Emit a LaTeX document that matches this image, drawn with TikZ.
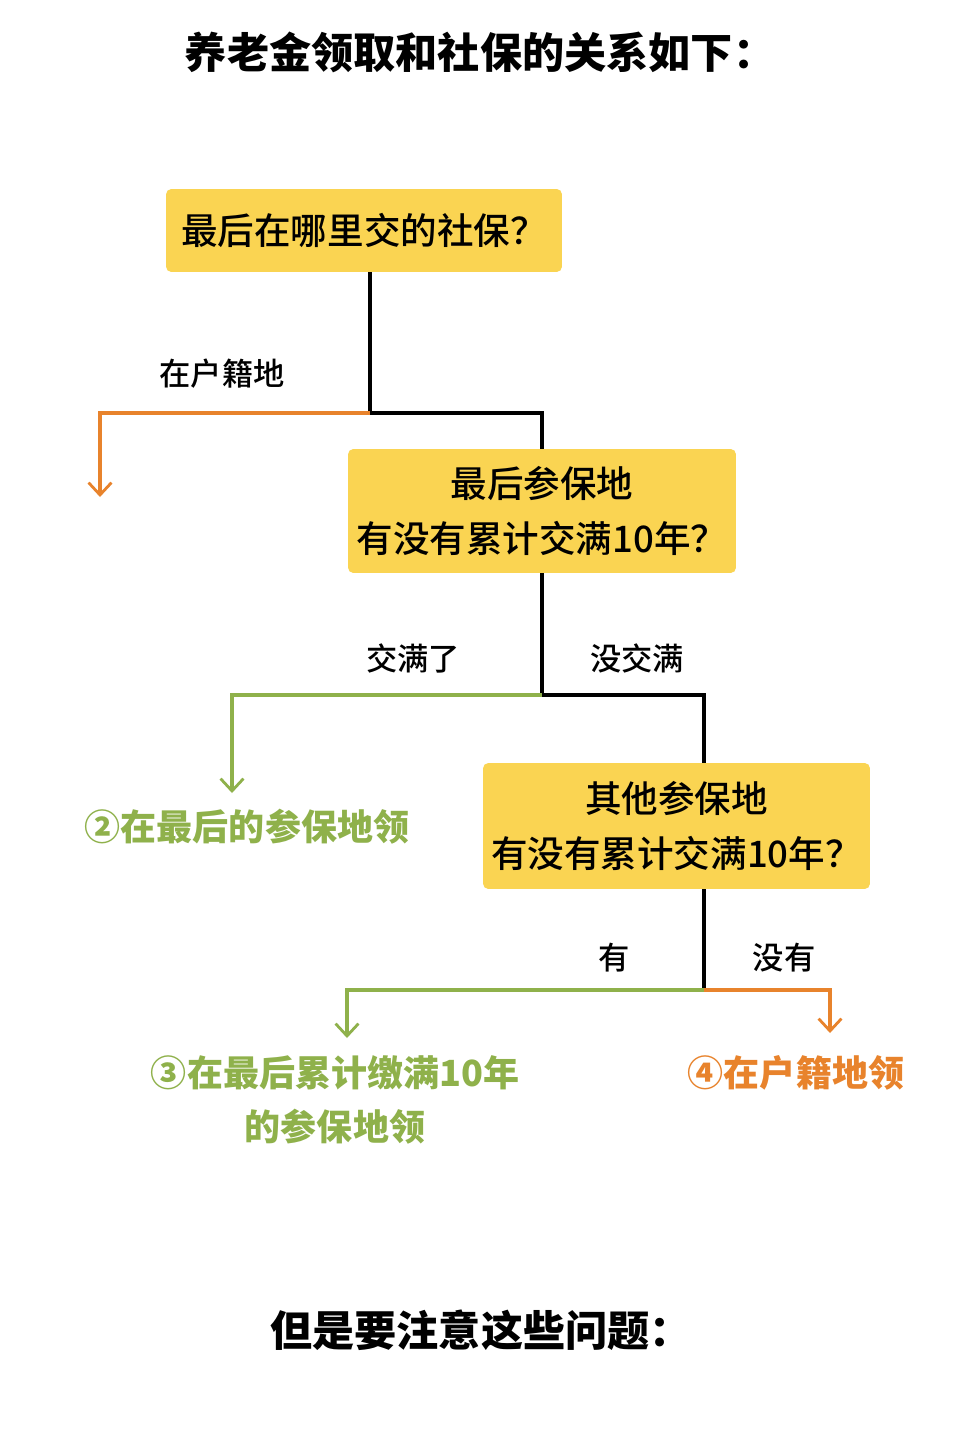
\documentclass[tikz,border=0pt]{standalone}
\usepackage{fontspec}
\newfontfamily\cjk{Noto Sans CJK SC}
\newfontfamily\cjkmed{Noto Sans CJK SC}[UprightFont={* Medium}]
\usetikzlibrary{arrows.meta,positioning}
\definecolor{boxyellow}{HTML}{FAD452}
\definecolor{leafgreen}{HTML}{8FB14B}
\definecolor{leaforange}{HTML}{E8832C}
\tikzset{
	qbox/.style={fill=boxyellow,rounded corners=3pt,align=center,inner sep=0pt,
		font=\cjkmed\fontsize{20.8}{31}\selectfont},
	lbl/.style={font=\cjkmed\fontsize{17.8}{20}\selectfont},
	head/.style={font=\cjk\bfseries\fontsize{24}{28}\selectfont},
	leaf/.style={align=center,font=\cjk\bfseries\fontsize{20.5}{31}\selectfont},
	link/.style={line width=2.3pt},
	-tip/.style={-{Straight Barb[length=7pt,width=13pt,line width=1.6pt]}}
}
\begin{document}
\begin{tikzpicture}[x=0.02cm,y=-0.02cm]
	\fill[white] (0,0) rectangle (960,1435);
	\useasboundingbox (0,0) rectangle (960,1435);

	\node[head] (title) at (480,52) {养老金领取和社保的关系如下：};
	\node[head] (note) at (481,1330) {但是要注意这些问题：};

	\node[qbox,minimum width=7.92cm,minimum height=1.66cm] (q1) at (364,230.5) {最后在哪里交的社保？};
	\node[qbox,minimum width=7.76cm,minimum height=2.48cm] (q2) at (542,511) {最后参保地\\有没有累计交满10年？};
	\node[qbox,minimum width=7.74cm,minimum height=2.52cm] (q3) at (676.5,826) {其他参保地\\有没有累计交满10年？};

	\node[leaf,text=leafgreen] (r2) at (247,827) {②在最后的参保地领};
	\node[leaf,text=leafgreen] (r3) at (335,1100) {③在最后累计缴满10年\\的参保地领};
	\node[leaf,text=leaforange] (r4) at (796,1073) {④在户籍地领};

	\node[lbl] (l1) at (222,374) {在户籍地};
	\node[lbl] (l2) at (413,658) {交满了};
	\node[lbl] (l3) at (637,658) {没交满};
	\node[lbl] (l4) at (614,958) {有};
	\node[lbl] (l5) at (784,958) {没有};

	\coordinate (j1) at (370,413);
	\coordinate (j2) at (542,695);
	\coordinate (j3) at (704,990);
	\coordinate (a1) at (100,497);
	\coordinate (a2) at (232,793);
	\coordinate (a3) at (347,1038);
	\coordinate (a4) at (830,1033);

	\draw[link] (q1.south -| j1) -- (j1) -| (q2.north);
	\draw[link,draw=leaforange,-tip] (j1) -| (a1);
	\draw[link] (q2.south -| j2) -- (j2) -| (q3.north -| j3);
	\draw[link,draw=leafgreen,-tip] (j2) -| (a2);
	\draw[link] (q3.south -| j3) -- (j3);
	\draw[link,draw=leafgreen,-tip] (j3) -| (a3);
	\draw[link,draw=leaforange,-tip] (j3) -| (a4);
\end{tikzpicture}
\end{document}
